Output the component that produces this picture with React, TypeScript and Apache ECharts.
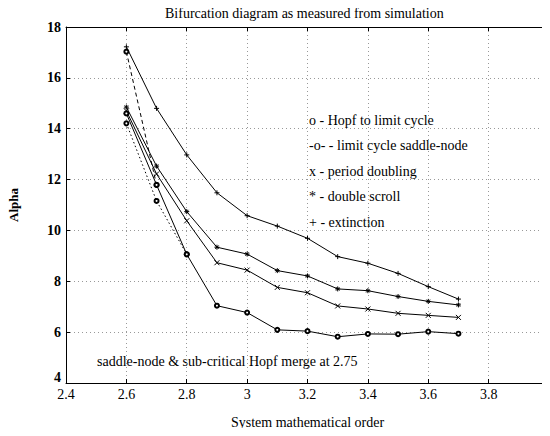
import React, { useEffect, useRef } from "react";
import * as echarts from "echarts";

const orders = [2.6, 2.7, 2.8, 2.9, 3.0, 3.1, 3.2, 3.3, 3.4, 3.5, 3.6, 3.7];
const extinction = [17.22, 14.8, 12.97, 11.48, 10.58, 10.17, 9.69, 8.97, 8.71, 8.31, 7.79, 7.3];
const doubleScroll = [14.85, 12.53, 10.74, 9.34, 9.07, 8.42, 8.21, 7.7, 7.63, 7.4, 7.21, 7.07];
const periodDoubling = [14.7, 12.22, 10.38, 8.73, 8.44, 7.76, 7.55, 7.03, 6.91, 6.74, 6.66, 6.58];
const hopf = [14.6, 11.79, 9.06, 7.04, 6.77, 6.09, 6.04, 5.82, 5.93, 5.92, 6.02, 5.94];
const saddleOrders = [2.6, 2.7];
const saddleNode = [17.03, 11.79];
const subOrders = [2.6, 2.7, 2.8];
const subHopf = [14.21, 11.16, 9.06];

const legendLines = [
  "o - Hopf to limit cycle",
  "-o- - limit cycle saddle-node",
  "x - period doubling",
  "* - double scroll",
  "+ - extinction",
];
const titleText = "Bifurcation diagram as measured from simulation";
const noteText = "saddle-node & sub-critical Hopf merge at 2.75";
const xName = "System mathematical order";
const yName = "Alpha";

const FONT = "'Liberation Serif', 'Times New Roman', serif";
const plusSym = "path://M5,0V10M0,5H10";
const crossSym = "path://M0,0L10,10M10,0L0,10";
const starSym = "path://M5,0V10M0,5H10M1.5,1.5L8.5,8.5M8.5,1.5L1.5,8.5";

function pairs(xs: number[], ys: number[]) {
  return xs.map((x, i) => [x, ys[i]]);
}

function makeSeries(name: string, data: number[][], symbol: string, size: number, dash?: number[]) {
  return {
    type: "line",
    name,
    data,
    xAxisIndex: 0,
    yAxisIndex: 0,
    symbol,
    symbolSize: size,
    showAllSymbol: true,
    lineStyle: { color: "#000", width: 1, type: dash ? dash : "solid" },
    itemStyle: { color: "#000", borderColor: "#000", borderWidth: 1 },
    emphasis: { disabled: true },
  };
}

export default function App() {
  const ref = useRef<HTMLDivElement>(null);
  useEffect(() => {
    if (!ref.current) return;
    const chart = echarts.init(ref.current, null, { renderer: "svg" });
    const fmt = (v: number) => String(+(+v).toFixed(1));
    chart.setOption({
      animation: false,
      backgroundColor: "#fff",
      textStyle: { fontFamily: FONT },
      grid: { left: 66, right: 1, top: 27, bottom: 53, outerBoundsMode: "none", containLabel: false },
      xAxis: [
        {
          type: "value",
          min: 2.4,
          max: 4,
          interval: 0.2,
          name: xName,
          nameLocation: "middle",
          nameGap: 32,
          nameTextStyle: { fontFamily: FONT, fontSize: 14, color: "#000" },
          axisLine: { lineStyle: { color: "#000", width: 1 } },
          axisTick: { inside: true, length: 4, lineStyle: { color: "#000" } },
          axisLabel: { formatter: fmt, fontFamily: FONT, fontSize: 14, color: "#000", margin: 4, alignMaxLabel: "right" },
          splitLine: { show: true, lineStyle: { color: "#999", type: [1, 3], width: 1 } },
        },
        {
          type: "value",
          position: "top",
          min: 2.4,
          max: 4,
          interval: 0.2,
          axisLine: { lineStyle: { color: "#000", width: 1 } },
          axisTick: { inside: true, length: 4, lineStyle: { color: "#000" } },
          axisLabel: { show: false },
          splitLine: { show: false },
        },
      ],
      yAxis: [
        {
          type: "value",
          min: 4,
          max: 18,
          interval: 2,
          name: yName,
          nameLocation: "middle",
          nameGap: 46,
          nameRotate: 90,
          nameTextStyle: { fontFamily: FONT, fontSize: 13, fontWeight: "bold", color: "#000" },
          axisLine: { lineStyle: { color: "#000", width: 1 } },
          axisTick: { inside: true, length: 4, lineStyle: { color: "#000" } },
          axisLabel: {
            fontFamily: FONT,
            fontSize: 14,
            fontWeight: "bold",
            color: "#000",
            margin: 5,
            formatter: (v: number) => (v === 4 ? "{lo|4}" : String(v)),
            rich: {
              lo: { fontFamily: FONT, fontSize: 14, fontWeight: "bold", color: "#000", padding: [0, 0, 12, 0] },
            },
          },
          splitLine: { show: true, lineStyle: { color: "#999", type: [1, 3], width: 1 } },
        },
        {
          type: "value",
          position: "right",
          min: 4,
          max: 18,
          interval: 2,
          axisLine: { lineStyle: { color: "#000", width: 1 } },
          axisTick: { inside: true, length: 4, lineStyle: { color: "#000" } },
          axisLabel: { show: false },
          splitLine: { show: false },
        },
      ],
      series: [
        makeSeries("extinction", pairs(orders, extinction), plusSym, 5),
        makeSeries("double scroll", pairs(orders, doubleScroll), starSym, 5),
        makeSeries("period doubling", pairs(orders, periodDoubling), crossSym, 5),
        makeSeries("Hopf to limit cycle", pairs(orders, hopf), "emptyCircle", 4),
        makeSeries("limit cycle saddle-node", pairs(saddleOrders, saddleNode), "emptyCircle", 4, [4, 3]),
        makeSeries("sub-critical Hopf", pairs(subOrders, subHopf), "emptyCircle", 4, [1.5, 2.5]),
      ],
      graphic: [
        {
          type: "text",
          left: 165,
          top: 6,
          silent: true,
          style: { text: titleText, font: `14px ${FONT}`, fill: "#000" },
        },
        ...legendLines.map((t, i) => ({
          type: "text",
          left: 309,
          top: 113 + i * 25.5,
          silent: true,
          style: { text: t, font: `14px ${FONT}`, fill: "#000" },
        })),
        {
          type: "text",
          left: 97,
          top: 354,
          silent: true,
          style: { text: noteText, font: `14px ${FONT}`, fill: "#000" },
        },
      ],
    });
    return () => chart.dispose();
  }, []);
  return <div ref={ref} style={{ width: 550, height: 436, margin: -8 }} />;
}
